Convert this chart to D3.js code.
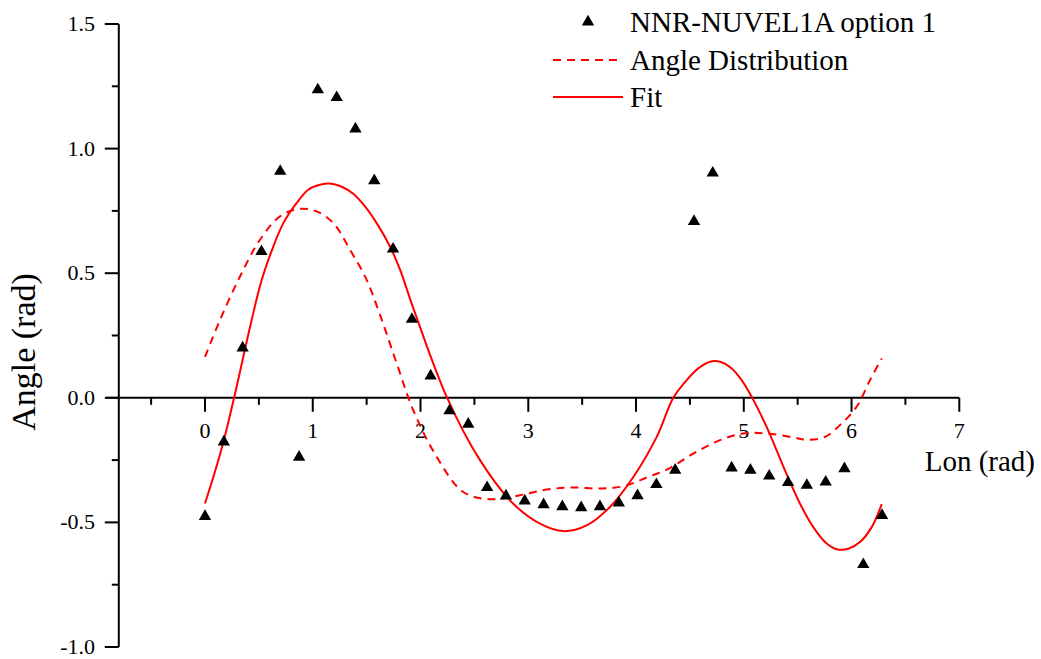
<!DOCTYPE html>
<html>
<meta charset="utf-8">
<head>
  <script src="https://d3js.org/d3.v7.min.js"></script>
  <style>
  body { margin: 0; background: #fff; }
  .axis line { stroke: #000; stroke-width: 2px; fill: none; }
  </style>
</head>
<body>
<div id="chart"></div>
<script>

// NNR-NUVEL1A option 1 (triangles)
var ptLon = [0, 0.175, 0.349, 0.524, 0.698, 0.873, 1.047, 1.222, 1.396, 1.571, 1.745, 1.920,
  2.094, 2.269, 2.443, 2.618, 2.793, 2.967, 3.142, 3.316, 3.491, 3.665, 3.840, 4.014,
  4.189, 4.363, 4.538, 4.712, 4.887, 5.061, 5.236, 5.411, 5.585, 5.760, 5.934, 6.109, 6.283]
var ptAngle = [-0.476, -0.177, 0.20, 0.587, 0.909, -0.238, 1.236, 1.205, 1.079, 0.871, 0.597, 0.315,
  0.088, -0.052, -0.106, -0.360, -0.394, -0.414, -0.429, -0.437, -0.441, -0.437, -0.422, -0.393,
  -0.348, -0.290, 0.708, 0.902, -0.281, -0.290, -0.314, -0.340, -0.351, -0.338, -0.284, -0.669, -0.472]

// Angle Distribution (dashed)
var distLon = [0, 0.139, 0.325, 0.51, 0.696, 0.866, 1.036, 1.191, 1.346, 1.5, 1.624, 1.779, 1.933,
  2.15, 2.397, 2.645, 2.923, 3.171, 3.418, 3.666, 3.882, 4.099, 4.30, 4.531, 4.779, 4.995,
  5.212, 5.459, 5.583, 5.753, 5.908, 6.047, 6.171, 6.28]
var distAngle = [0.164, 0.312, 0.487, 0.634, 0.728, 0.758, 0.748, 0.701, 0.594, 0.473, 0.333, 0.138, -0.05,
  -0.237, -0.378, -0.407, -0.391, -0.368, -0.36, -0.364, -0.355, -0.32, -0.285, -0.224, -0.17, -0.143,
  -0.143, -0.159, -0.168, -0.157, -0.103, -0.036, 0.071, 0.158]

// Fit (solid)
var fitLon = [0, 0.09, 0.175, 0.27, 0.433, 0.526, 0.634, 0.727, 0.851, 0.958, 1.067, 1.176, 1.283,
  1.376, 1.485, 1.593, 1.717, 1.810, 1.933, 2.243, 2.552, 2.861, 3.109, 3.325, 3.542, 3.758,
  3.975, 4.192, 4.346, 4.47, 4.578, 4.686, 4.779, 4.888, 4.98, 5.073, 5.212, 5.382, 5.522,
  5.645, 5.769, 5.862, 5.97, 6.078, 6.187, 6.28]
var fitAngle = [-0.424, -0.30, -0.17, 0, 0.312, 0.473, 0.607, 0.701, 0.782, 0.835, 0.855, 0.859, 0.844,
  0.819, 0.768, 0.701, 0.607, 0.514, 0.360, 0.004, -0.25, -0.425, -0.505, -0.535, -0.512, -0.438,
  -0.318, -0.157, 0, 0.071, 0.118, 0.145, 0.145, 0.118, 0.071, 0.004, -0.117, -0.291, -0.425,
  -0.519, -0.585, -0.608, -0.606, -0.579, -0.519, -0.427]

var xTicks = [0, 1, 2, 3, 4, 5, 6, 7]
var xMinor = [-0.5, 0.5, 1.5, 2.5, 3.5, 4.5, 5.5, 6.5]
var yTicks = [1.5, 1.0, 0.5, 0.0, -0.5, -1.0]
var yMinor = [1.25, 0.75, 0.25, -0.25, -0.75]

var W = 1041, H = 659
var FONT = "'Liberation Serif', 'Times New Roman', serif"

var x = d3.scaleLinear().domain([0, 7]).range([205, 959.3])
var y = d3.scaleLinear().domain([-1, 1.5]).range([647, 24])
var xStart = -0.92, yAxisAt = -0.8

var svg = d3.select("#chart").append("svg")
    .attr("width", W)
    .attr("height", H)
    .style("display", "block")
    .style("font-family", FONT, "important")

svg.append("rect").attr("width", W).attr("height", H).attr("fill", "#fff")

// text helper: serif font forced inline
function label(sel, size) {
  return sel.style("font-family", FONT, "important")
    .style("font-size", size + "px")
    .attr("fill", "#000")
}

/* y axis */
var yax = svg.append("g").attr("class", "axis")
yax.append("line")
  .attr("x1", x(yAxisAt)).attr("x2", x(yAxisAt))
  .attr("y1", y(1.5)).attr("y2", y(-1))
yax.selectAll(".maj").data(yTicks).enter().append("line")
  .attr("x1", x(yAxisAt) - 14).attr("x2", x(yAxisAt))
  .attr("y1", function(d) { return y(d) }).attr("y2", function(d) { return y(d) })
yax.selectAll(".min").data(yMinor).enter().append("line")
  .attr("x1", x(yAxisAt) - 7).attr("x2", x(yAxisAt))
  .attr("y1", function(d) { return y(d) }).attr("y2", function(d) { return y(d) })
svg.selectAll(".ylab").data(yTicks).enter().append("text")
  .attr("x", 95)
  .attr("y", function(d) { return y(d) + 7 })
  .attr("text-anchor", "end")
  .text(function(d) { return d.toFixed(1) })
  .call(label, 22)

/* x axis along y = 0 */
var xax = svg.append("g").attr("class", "axis")
xax.append("line")
  .attr("x1", x(xStart)).attr("x2", x(7))
  .attr("y1", y(0)).attr("y2", y(0))
xax.selectAll(".maj").data(xTicks).enter().append("line")
  .attr("x1", function(d) { return x(d) }).attr("x2", function(d) { return x(d) })
  .attr("y1", y(0)).attr("y2", y(0) + 14)
xax.selectAll(".min").data(xMinor).enter().append("line")
  .attr("x1", function(d) { return x(d) }).attr("x2", function(d) { return x(d) })
  .attr("y1", y(0)).attr("y2", y(0) + 7)
svg.selectAll(".xlab").data(xTicks).enter().append("text")
  .attr("x", function(d) { return x(d) })
  .attr("y", y(0) + 40)
  .attr("text-anchor", "middle")
  .text(function(d) { return d })
  .call(label, 22)

svg.append("text")
  .attr("x", 1035).attr("y", 471)
  .attr("text-anchor", "end")
  .text("Lon (rad)")
  .call(label, 29)

svg.append("text")
  .attr("transform", "translate(35,352) rotate(-90)")
  .attr("text-anchor", "middle")
  .text("Angle (rad)")
  .call(label, 34)

/* curves */
var line = d3.line()
  .x(function(d) { return x(d[0]) })
  .y(function(d) { return y(d[1]) })
  .curve(d3.curveCatmullRom.alpha(0.5))

svg.append("path")
  .datum(d3.zip(distLon, distAngle))
  .attr("d", line)
  .attr("fill", "none").attr("stroke", "#ff0000").attr("stroke-width", 2)
  .attr("stroke-dasharray", "8,6")

svg.append("path")
  .datum(d3.zip(fitLon, fitAngle))
  .attr("d", line)
  .attr("fill", "none").attr("stroke", "#ff0000").attr("stroke-width", 2)

var tri = d3.symbol().type(d3.symbolTriangle).size(66)

svg.selectAll(".pt").data(d3.zip(ptLon, ptAngle)).enter().append("path")
  .attr("class", "pt")
  .attr("d", tri)
  .attr("transform", function(d) { return "translate(" + x(d[0]) + "," + y(d[1]) + ")" })
  .attr("fill", "#000")

/* legend */
var lg = svg.append("g")
lg.append("path").attr("d", tri).attr("transform", "translate(588,22)").attr("fill", "#000")
lg.append("line").attr("x1", 553).attr("x2", 623).attr("y1", 60).attr("y2", 60)
  .attr("stroke", "#ff0000").attr("stroke-width", 2).attr("stroke-dasharray", "8,6")
lg.append("line").attr("x1", 553).attr("x2", 623).attr("y1", 97).attr("y2", 97)
  .attr("stroke", "#ff0000").attr("stroke-width", 2)
var legendText = ["NNR-NUVEL1A option 1", "Angle Distribution", "Fit"]
var legendBase = [32, 70, 107]
lg.selectAll("text").data(legendText).enter().append("text")
  .attr("x", 630)
  .attr("y", function(d, i) { return legendBase[i] })
  .text(function(d) { return d })
  .call(label, 29)

</script>
</body>
</html>
